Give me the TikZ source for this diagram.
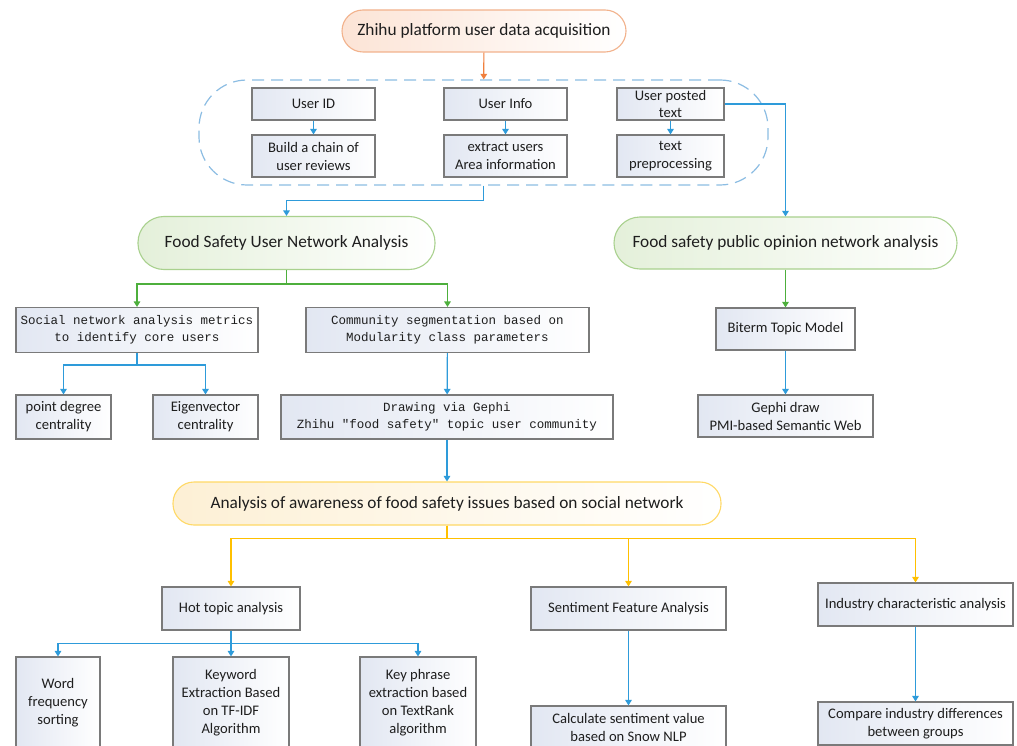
\documentclass[tikz,border=0pt]{standalone}
\usepackage{fontspec}
\setmainfont{Carlito}
\setmonofont{Liberation Mono}
\usepackage{tikz}
\usetikzlibrary{arrows.meta}
\definecolor{lineblue}{HTML}{2E9BDA}
\definecolor{dashblue}{HTML}{8CBDE3}
\definecolor{lineorange}{HTML}{F07F3C}
\definecolor{pillorange}{HTML}{F2B28C}
\definecolor{fillorange}{HTML}{FCE4D6}
\definecolor{linegreen}{HTML}{4DAF3C}
\definecolor{pillgreen}{HTML}{A9D18E}
\definecolor{fillgreen}{HTML}{E4F0DA}
\definecolor{lineyellow}{HTML}{FFC000}
\definecolor{pillyellow}{HTML}{FFD966}
\definecolor{fillyellow}{HTML}{FDF0D5}
\definecolor{boxfill}{HTML}{E2E7F2}
\definecolor{boxline}{HTML}{7A7A7A}
\definecolor{inktext}{HTML}{1E1E1E}
\newcommand{\bxfont}{\fontsize{14.6}{18}\selectfont}
\newcommand{\pillfont}{\fontsize{17.3}{20}\selectfont}
\newcommand{\codefont}{\ttfamily\fontsize{12.5}{17}\selectfont}

\begin{document}
\begin{tikzpicture}[x=1pt, y=-1pt, text=inktext,
  box/.style={draw=boxline, line width=1.1pt, left color=boxfill, right color=white,
    align=center, inner sep=1pt, font=\bxfont},
  codebox/.style={box, font=\codefont},
  pill/.style={rounded corners=21pt, line width=1.1pt, align=center, font=\pillfont},
  orangepill/.style={pill, draw=pillorange, left color=fillorange, right color=white},
  greenpill/.style={pill, draw=pillgreen, left color=fillgreen, right color=white},
  yellowpill/.style={pill, draw=pillyellow, left color=fillyellow, right color=white},
  link/.style={line width=1.2pt, -{Triangle[width=6.5pt,length=5.5pt]}},
  bluelink/.style={link, lineblue},
  greenlink/.style={link, linegreen},
  yellowlink/.style={link, lineyellow},
  orangelink/.style={link, lineorange}]

  \clip (0,0) rectangle (1017,746);
  \fill[white] (0,0) rectangle (1017,746);

  % ---- data acquisition ----
  \node[orangepill, minimum width=284pt, minimum height=42pt] (src) at (484,31)
    {Zhihu platform user data acquisition};
  \node[draw=dashblue, dash pattern=on 12pt off 7pt, line width=1.2pt, rounded corners=48pt,
    minimum width=569pt, minimum height=105pt] (grp) at (483.5,132.5) {};
  \node[box, minimum width=123pt, minimum height=32pt] (uid) at (313.5,104) {User ID};
  \node[box, minimum width=123pt, minimum height=42pt] (chain) at (313.5,156) {Build a chain of\\user reviews};
  \node[box, minimum width=123pt, minimum height=32pt] (uinfo) at (505.5,104) {User Info};
  \node[box, minimum width=123pt, minimum height=42pt] (area) at (505.5,156) {extract users\\Area information};
  \node[box, minimum width=107pt, minimum height=32pt, inner sep=0pt, font=\fontsize{14.6}{16.5}\selectfont]
    (utext) at (670.5,104) {User posted\\text};
  \node[box, minimum width=107pt, minimum height=42pt] (prep) at (670.5,156) {text\\preprocessing};

  \draw[orangelink] (src) -- (grp);
  \draw[bluelink] (uid) -- (chain);
  \draw[bluelink] (uinfo) -- (area);
  \draw[bluelink] (utext) -- (prep);

  % ---- two network analyses ----
  \node[greenpill, rounded corners=26pt, minimum width=297pt, minimum height=53pt] (usernet) at (286.5,243)
    {Food Safety User Network Analysis};
  \node[greenpill, rounded corners=26pt, minimum width=343pt, minimum height=52pt] (opinion) at (785.5,243)
    {Food safety public opinion network analysis};

  \draw[bluelink] (grp.south) -- ++(0,15) -| (usernet.north);
  \draw[bluelink] (utext.east) -| (opinion.north);

  % ---- user network branch ----
  \node[codebox, minimum width=242pt, minimum height=45pt] (sna) at (137,330)
    {Social network analysis metrics\\to identify core users};
  \node[codebox, minimum width=283pt, minimum height=45pt] (comm) at (447.5,330)
    {Community segmentation based on\\Modularity class parameters};
  \node[box, minimum width=95pt, minimum height=44pt] (degree) at (63.5,417) {point degree\\centrality};
  \node[box, minimum width=105pt, minimum height=44pt] (eigen) at (205.5,417) {Eigenvector\\centrality};
  \node[codebox, minimum width=332pt, minimum height=44pt] (gephi) at (447,417)
    {Drawing via Gephi\\Zhihu "food safety" topic user community};

  \draw[greenlink] (usernet.south) -- ++(0,14) -| (sna.north);
  \draw[greenlink] (usernet.south) -- ++(0,14) -| (comm.north);
  \draw[bluelink] (sna.south) -- ++(0,12) -| (degree.north);
  \draw[bluelink] (sna.south) -- ++(0,12) -| (eigen.north);
  \draw[bluelink] (comm) -- (gephi);

  % ---- public opinion branch ----
  \node[box, minimum width=139pt, minimum height=42pt] (biterm) at (785.5,329) {Biterm Topic Model};
  \node[box, minimum width=175pt, minimum height=42pt] (pmi) at (785.5,416) {Gephi draw\\PMI-based Semantic Web};

  \draw[greenlink] (opinion) -- (biterm);
  \draw[bluelink] (biterm) -- (pmi);

  % ---- awareness analysis ----
  \node[yellowpill, minimum width=548pt, minimum height=43pt] (aware) at (447,503.5)
    {Analysis of awareness of food safety issues based on social network};

  \draw[bluelink] (gephi) -- (aware);

  \node[box, minimum width=138pt, minimum height=43pt] (hot) at (231,608.5) {Hot topic analysis};
  \node[box, minimum width=195pt, minimum height=43pt] (senti) at (628.5,608.5) {Sentiment Feature Analysis};
  \node[box, minimum width=195pt, minimum height=43pt] (industry) at (915.5,604.5) {Industry characteristic analysis};

  \draw[yellowlink] (aware.south) -- ++(0,13) -| (hot.north);
  \draw[yellowlink] (aware.south) -- ++(0,13) -| (senti.north);
  \draw[yellowlink] (aware.south) -- ++(0,13) -| (industry.north);

  % ---- bottom row ----
  \node[box, minimum width=84pt, minimum height=92pt] (wordfreq) at (58,703) {Word\\frequency\\sorting};
  \node[box, minimum width=116pt, minimum height=92pt] (keyword) at (231,703)
    {Keyword\\Extraction Based\\on TF-IDF\\Algorithm};
  \node[box, minimum width=116pt, minimum height=92pt] (keyphrase) at (418,703)
    {Key phrase\\extraction based\\on TextRank\\algorithm};
  \node[box, minimum width=195pt, minimum height=42pt] (calc) at (628.5,727)
    {Calculate sentiment value\\based on Snow NLP};
  \node[box, minimum width=195pt, minimum height=43pt] (compare) at (915.5,723.5)
    {Compare industry differences\\between groups};

  \draw[bluelink] (hot.south) -- ++(0,13) -| (wordfreq.north);
  \draw[bluelink] (hot.south) -- ++(0,13) -| (keyword.north);
  \draw[bluelink] (hot.south) -- ++(0,13) -| (keyphrase.north);
  \draw[bluelink] (senti) -- (calc);
  \draw[bluelink] (industry) -- (compare);

\end{tikzpicture}
\end{document}
